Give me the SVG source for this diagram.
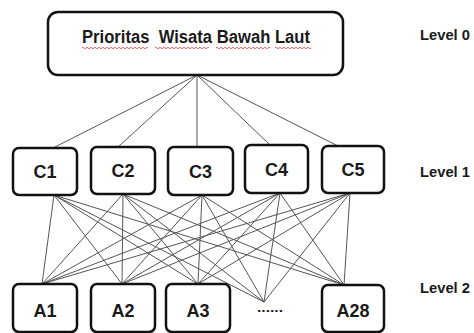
<svg xmlns="http://www.w3.org/2000/svg" width="474" height="333" viewBox="0 0 474 333">
<style>
.box{fill:#fff;stroke:#111;stroke-width:2.5}
.lbl{font-family:"Liberation Sans",Arial,sans-serif;font-weight:bold;fill:#1a1a1a;text-anchor:middle}
.lvl{font-family:"Liberation Sans",Arial,sans-serif;font-weight:bold;fill:#1a1a1a;font-size:15px}
.con line{stroke:#555;stroke-width:1}
.sq{fill:none;stroke:#e04040;stroke-width:0.8}
</style>
<rect width="474" height="333" fill="#fff"/>
<g id="connectors" class="con">
<line x1="197" y1="75" x2="53" y2="148"/>
<line x1="197" y1="75" x2="118" y2="147"/>
<line x1="197" y1="75" x2="197" y2="147"/>
<line x1="197" y1="75" x2="270" y2="145"/>
<line x1="197" y1="75" x2="340" y2="147"/>
<line x1="54" y1="195" x2="42" y2="284"/>
<line x1="54" y1="195" x2="122" y2="284"/>
<line x1="54" y1="195" x2="198" y2="284"/>
<line x1="54" y1="195" x2="264" y2="302"/>
<line x1="54" y1="195" x2="344" y2="285"/>
<line x1="123" y1="194" x2="42" y2="284"/>
<line x1="123" y1="194" x2="122" y2="284"/>
<line x1="123" y1="194" x2="198" y2="284"/>
<line x1="123" y1="194" x2="264" y2="302"/>
<line x1="123" y1="194" x2="344" y2="285"/>
<line x1="202" y1="195" x2="42" y2="284"/>
<line x1="202" y1="195" x2="122" y2="284"/>
<line x1="202" y1="195" x2="198" y2="284"/>
<line x1="202" y1="195" x2="264" y2="302"/>
<line x1="202" y1="195" x2="344" y2="285"/>
<line x1="280" y1="193" x2="42" y2="284"/>
<line x1="280" y1="193" x2="122" y2="284"/>
<line x1="280" y1="193" x2="198" y2="284"/>
<line x1="280" y1="193" x2="264" y2="302"/>
<line x1="280" y1="193" x2="344" y2="285"/>
<line x1="350" y1="193" x2="42" y2="284"/>
<line x1="350" y1="193" x2="122" y2="284"/>
<line x1="350" y1="193" x2="198" y2="284"/>
<line x1="350" y1="193" x2="264" y2="302"/>
<line x1="350" y1="193" x2="344" y2="285"/>
</g>
<g id="root">
<rect class="box" x="48" y="12" width="295" height="63" rx="10"/>
<text class="lbl" x="196" y="43" font-size="18" style="white-space:pre" textLength="228" lengthAdjust="spacingAndGlyphs">Prioritas  Wisata Bawah Laut</text>
<path class="sq" d="M82 48 q1 -1.5 2 0 t2 0 t2 0 t2 0 t2 0 t2 0 t2 0 t2 0 t2 0 t2 0 t2 0 t2 0 t2 0 t2 0 t2 0 t2 0 t2 0 t2 0 t2 0 t2 0 t2 0 t2 0 t2 0 t2 0 t2 0 t2 0 t2 0 t2 0 t2 0 t2 0 t2 0 t2 0 t2 0"/>
<path class="sq" d="M155 48 q1 -1.5 2 0 t2 0 t2 0 t2 0 t2 0 t2 0 t2 0 t2 0 t2 0 t2 0 t2 0 t2 0 t2 0 t2 0 t2 0 t2 0 t2 0 t2 0 t2 0 t2 0 t2 0 t2 0 t2 0 t2 0 t2 0 t2 0 t2 0"/>
<path class="sq" d="M216 48 q1 -1.5 2 0 t2 0 t2 0 t2 0 t2 0 t2 0 t2 0 t2 0 t2 0 t2 0 t2 0 t2 0 t2 0 t2 0 t2 0 t2 0 t2 0 t2 0 t2 0 t2 0 t2 0 t2 0 t2 0 t2 0 t2 0 t2 0 t2 0"/>
<path class="sq" d="M275 48 q1 -1.5 2 0 t2 0 t2 0 t2 0 t2 0 t2 0 t2 0 t2 0 t2 0 t2 0 t2 0 t2 0 t2 0 t2 0 t2 0 t2 0 t2 0 t2 0"/>
</g>
<g id="C1"><rect class="box" x="13" y="148" width="64" height="47" rx="6"/><text class="lbl" x="45" y="178" font-size="18">C1</text></g>
<g id="C2"><rect class="box" x="91" y="147" width="64" height="47" rx="6"/><text class="lbl" x="123" y="177" font-size="18">C2</text></g>
<g id="C3"><rect class="box" x="168" y="147" width="65" height="48" rx="6"/><text class="lbl" x="200.5" y="178" font-size="18">C3</text></g>
<g id="C4"><rect class="box" x="245" y="145" width="63" height="48" rx="6"/><text class="lbl" x="276.5" y="176" font-size="18">C4</text></g>
<g id="C5"><rect class="box" x="322" y="146" width="62" height="47" rx="6"/><text class="lbl" x="353" y="176" font-size="18">C5</text></g>
<g id="A1"><rect class="box" x="13" y="284" width="64" height="48" rx="6"/><text class="lbl" x="45" y="317" font-size="18">A1</text></g>
<g id="A2"><rect class="box" x="91" y="284" width="64" height="48" rx="6"/><text class="lbl" x="123" y="317" font-size="18">A2</text></g>
<g id="A3"><rect class="box" x="166" y="284" width="64" height="48" rx="6"/><text class="lbl" x="198" y="317" font-size="18">A3</text></g>
<g id="dots"><text class="lbl" x="270" y="312" font-size="12" textLength="26" lengthAdjust="spacingAndGlyphs">......</text></g>
<g id="A28"><rect class="box" x="322" y="285" width="62" height="47" rx="6"/><text class="lbl" x="353" y="317" font-size="18">A28</text></g>
<g id="levels">
<text class="lvl" x="420" y="40" textLength="50" lengthAdjust="spacingAndGlyphs">Level 0</text>
<text class="lvl" x="420" y="177" textLength="50" lengthAdjust="spacingAndGlyphs">Level 1</text>
<text class="lvl" x="420" y="293" textLength="50" lengthAdjust="spacingAndGlyphs">Level 2</text>
</g>
</svg>
